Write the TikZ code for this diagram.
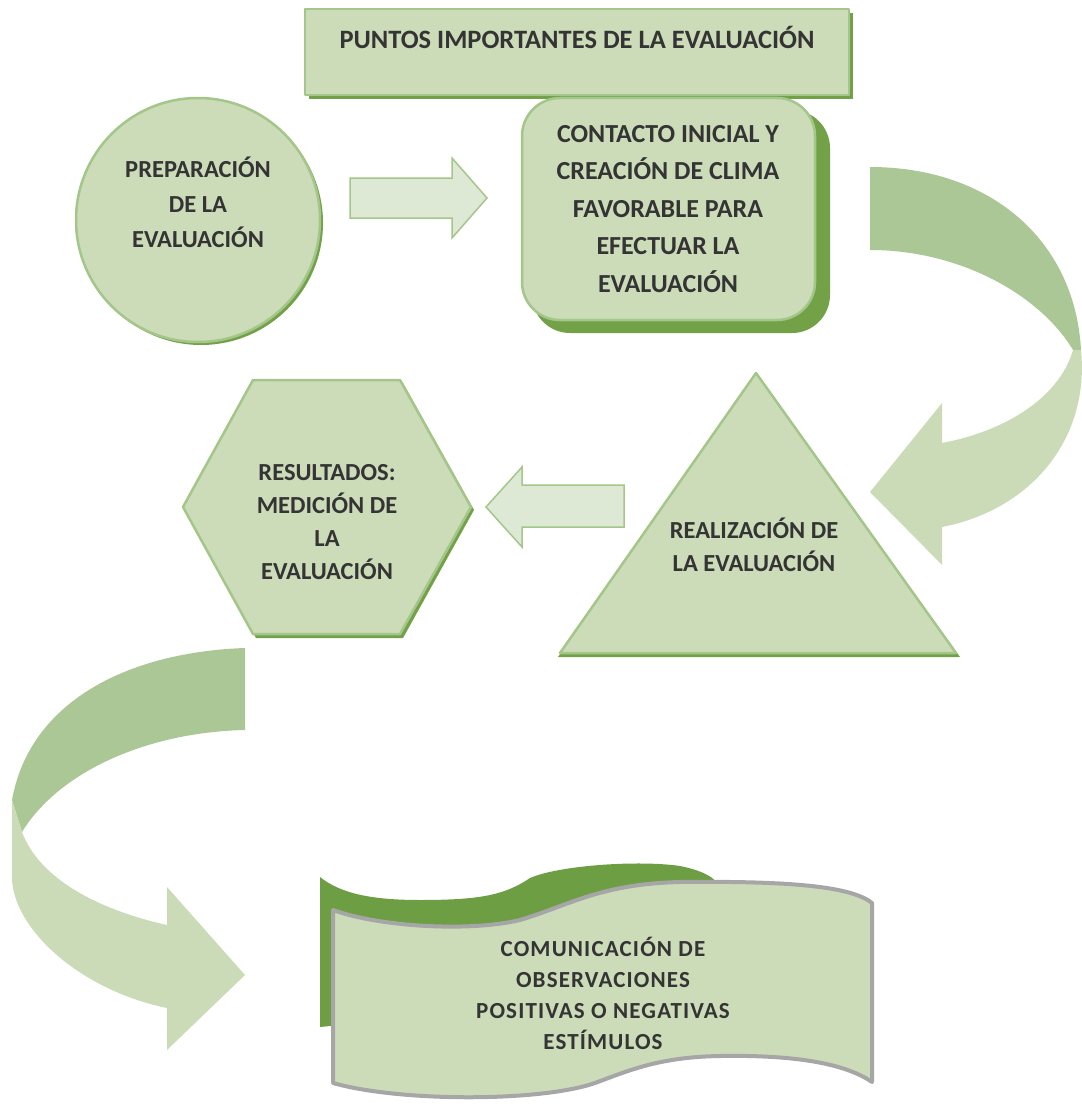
\documentclass[tikz,border=0pt]{standalone}
\usepackage{fontspec}
\setmainfont{Carlito}
\newfontfamily\spaced{Carlito}[LetterSpace=5]
\definecolor{leaf}{RGB}{204,219,184}
\definecolor{leafedge}{RGB}{164,198,138}
\definecolor{leafdark}{RGB}{114,161,72}
\definecolor{bandback}{RGB}{171,199,149}
\definecolor{bandfront}{RGB}{203,219,184}
\definecolor{arrowfill}{RGB}{222,233,213}
\definecolor{ink}{RGB}{52,52,52}
\definecolor{rim}{RGB}{166,166,166}
\definecolor{backpanel}{RGB}{110,158,68}

\tikzset{
  facefill/.style={fill=leaf, draw=leafedge, line width=2.5pt, line join=round},
  shadowfill/.style={fill=leafdark},
  flatarrow/.style={fill=arrowfill, draw=leafedge, line width=1.5pt},
  textlabel/.style={text=ink, align=center, inner sep=0pt,
    font=\bfseries\fontsize{24}{34}\selectfont},
}

\begin{document}
\begin{tikzpicture}[x=1pt,y=-1pt]
\useasboundingbox (0,0) rectangle (1081,1105);

% title bar
\fill[shadowfill] (309,13) rectangle (853,99);
\draw[facefill] (305,9) rectangle (849,95);
\node[textlabel, font=\bfseries\fontsize{26.5}{30}\selectfont, anchor=base] (title) at (577,49) {PUNTOS IMPORTANTES DE LA EVALUACIÓN};

% preparation
\fill[shadowfill] (201,223) circle (122pt);
\draw[facefill] (198,220) circle (122pt);
\node[textlabel, font=\bfseries\fontsize{24.5}{35}\selectfont] (prep) at (198,202) {PREPARACIÓN\\DE LA\\EVALUACIÓN};

\draw[flatarrow] (350,178) -- (452,178) -- (452,158) -- (487,198) -- (452,238) -- (452,218) -- (350,218) -- cycle;

% contact
\fill[shadowfill, rounded corners=38pt] (532,110) rectangle (830,333);
\draw[facefill, rounded corners=38pt] (522,98) rectangle (815,320);
\node[textlabel, font=\bfseries\fontsize{26}{37.5}\selectfont] (contact) at (668,209) {CONTACTO INICIAL Y\\CREACIÓN DE CLIMA\\FAVORABLE PARA\\EFECTUAR LA\\EVALUACIÓN};

% curved arrow, right
\fill[bandback] (870,167) .. controls (990,167) and (1075,240) .. (1081,350) -- (1073,350) .. controls (1040,295) and (960,250) .. (870,250) -- cycle;
\fill[bandfront] (1073,350) -- (1081,350) .. controls (1090,440) and (1030,510) .. (942,527) -- (942,565) -- (870,492) -- (942,403) -- (942,443) .. controls (1010,430) and (1060,395) .. (1073,350) -- cycle;

% realization
\fill[shadowfill] (758,377) -- (960,657) -- (558,657) -- cycle;
\draw[facefill] (756,373) -- (956,653) -- (560,653) -- cycle;
\node[textlabel, font=\bfseries\fontsize{24.5}{33}\selectfont] (realize) at (754,545) {REALIZACIÓN DE\\LA EVALUACIÓN};

\draw[flatarrow] (624,485) -- (522,485) -- (522,467) -- (486,507) -- (522,547) -- (522,527) -- (624,527) -- cycle;

% results
\fill[shadowfill] (186,510) -- (256,383) -- (403,383) -- (474,510) -- (403,638) -- (256,638) -- cycle;
\draw[facefill] (183,507) -- (253,380) -- (400,380) -- (471,507) -- (400,634) -- (253,634) -- cycle;
\node[textlabel, font=\bfseries\fontsize{24.5}{33}\selectfont] (results) at (327,522) {RESULTADOS:\\MEDICIÓN DE\\LA\\EVALUACIÓN};

% curved arrow, left
\fill[bandback] (245,648) .. controls (130,652) and (30,700) .. (12,800) -- (22,832) .. controls (60,770) and (150,732) .. (245,730) -- cycle;
\fill[bandfront] (22,832) -- (12,800) -- (12,880) .. controls (15,930) and (80,990) .. (167,1008) -- (167,1050) -- (245,975) -- (167,887) -- (167,925) .. controls (100,910) and (40,880) .. (22,832) -- cycle;

% communication banner
\fill[backpanel] (320,877) .. controls (340,893) and (370,900) .. (420,900) .. controls (480,900) and (505,895) .. (530,878) .. controls (560,865) and (640,860) .. (680,866) .. controls (700,870) and (712,876) .. (716,882) -- (600,1000) -- (320,1027) -- cycle;
\draw[fill=leaf, draw=rim, line width=4pt, line join=round] (333,910) .. controls (380,927) and (470,932) .. (520,920) .. controls (570,905) and (600,884) .. (680,882) .. controls (780,881) and (850,885) .. (872,903) -- (872,1082) .. controls (840,1060) and (780,1055) .. (720,1056) .. controls (660,1057) and (630,1070) .. (595,1083) .. controls (540,1102) and (400,1102) .. (333,1083) -- cycle;
\node[textlabel, font=\spaced\bfseries\fontsize{23}{31}\selectfont] (comm) at (603,993) {COMUNICACIÓN DE\\OBSERVACIONES\\POSITIVAS O NEGATIVAS\\ESTÍMULOS};

\end{tikzpicture}
\end{document}
